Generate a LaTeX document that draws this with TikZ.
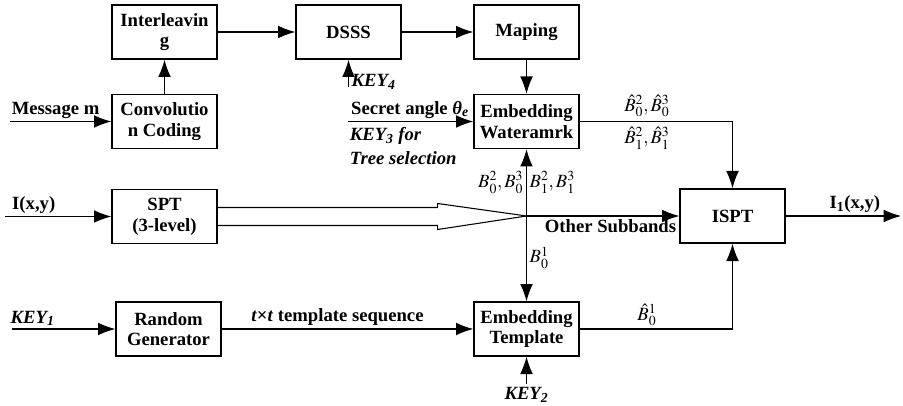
\documentclass[tikz,border=0pt]{standalone}
\usepackage{amsmath}
\usepackage{mathptmx}
\usepackage{fontspec}
\setmainfont{Liberation Serif}
\usetikzlibrary{arrows.meta, positioning}

\begin{document}
\begin{tikzpicture}[x=0.75pt, y=-0.75pt, line width=0.8pt,
    blk/.style={draw, line width=1pt, minimum width=78.75pt, minimum height=40.5pt,
        align=center, inner sep=1pt, font=\fontsize{14}{15.5}\selectfont\bfseries},
    lbl/.style={inner sep=2pt, align=left, font=\fontsize{14}{16}\selectfont\bfseries},
    mth/.style={inner sep=2pt, font=\fontsize{14}{16}\selectfont},
    arr/.style={-{Latex[length=13pt,width=9.5pt]}}]
    \useasboundingbox (0,0) rectangle (903,406);

    \node[blk] (inter) at (164.5,32) {Interleavin\\g};
    \node[blk] (dsss) at (348.5,32) {DSSS};
    \node[blk] (maping) at (526.5,32) {Maping};
    \node[blk] (conv) at (164.5,121.5) {Convolutio\\n Coding};
    \node[blk] (embw) at (526.5,121.5) {Embedding\\Wateramrk};
    \node[blk] (spt) at (164.5,216.5) {SPT\\(3-level)};
    \node[blk] (ispt) at (732.5,216) {ISPT};
    \node[blk] (randg) at (168.5,329) {Random\\Generator};
    \node[blk] (embt) at (526.5,329) {Embedding\\Template};

    \coordinate (msg) at (10,121.5);
    \coordinate (img) at (5,216.5);
    \coordinate (out) at (901,216);
    \coordinate (key1) at (12,329);
    \coordinate (key4) at (348.5,87);
    \coordinate (key2) at (526.5,384);
    \coordinate (secret) at (348,121.5);
    \coordinate (junc) at (526.5,216);

    \draw[arr] (inter) -- (dsss);
    \draw[arr] (dsss) -- (maping);
    \draw[arr] (conv) -- (inter);
    \draw[arr] (maping) -- (embw);
    \draw[arr] (msg) -- node[lbl, above, pos=0.45] {Message m} (conv.west);
    \draw[arr] (img) -- node[lbl, above, pos=0.27] {I(x,y)} (spt.west);
    \draw[arr] (ispt) -- node[lbl, above, pos=0.6] {I\textsubscript{1}(x,y)} (out);
    \draw[arr] (key1) -- node[lbl, above, pos=0.2] {\textit{KEY\textsubscript{1}}} (randg);
    \draw[arr] (randg) -- node[lbl, above, pos=0.46] {\textit{t}×\textit{t} template sequence} (embt);

    \draw[arr] (key4) -- (dsss.south);
    \node[lbl, anchor=west] (k4lbl) at ([yshift=4pt]key4) {\textit{KEY\textsubscript{4}}};
    \draw[arr] (key2) -- (embt.south);
    \node[lbl, below] (k2lbl) at (key2) {\textit{KEY\textsubscript{2}}};

    \draw[arr] (secret) -- (embw.west);
    \node[lbl, anchor=south west, inner sep=2pt] (salbl) at (secret) {Secret angle \textit{θ\textsubscript{e}}};
    \node[lbl, anchor=north west, inner sep=4pt, xshift=-3pt, font=\fontsize{14}{18}\selectfont\bfseries] (k3lbl)
        at (secret) {\textit{KEY\textsubscript{3} for}\\\textit{Tree selection}};

    \draw ([yshift=6.75pt]spt.east) -- ++(220,0) -- ++(0,-4) -- (junc);
    \draw ([yshift=-6.75pt]spt.east) -- ++(220,0) -- ++(0,4) -- (junc);

    \draw[arr] (junc) -- node[mth, left, pos=0.5] {$B_0^2 , B_0^3$}
        node[mth, right, pos=0.5] {$B_1^2 , B_1^3$} (embw.south);
    \draw[arr] (junc) -- node[mth, right, pos=0.49] {$B_0^1$} (embt.north);
    \draw[arr] (junc) -- node[lbl, below left, pos=1] {Other Subbands} (ispt.west);

    \draw[arr] (embw.east) -| node[mth, above, pos=0.22, yshift=1pt] {$\hat{B}_0^2 , \hat{B}_0^3$}
        node[mth, below, pos=0.22, yshift=-2pt] {$\hat{B}_1^2 , \hat{B}_1^3$} (ispt.north);
    \draw[arr] (embt.east) -| node[mth, above, pos=0.22] {$\hat{B}_0^1$} (ispt.south);
\end{tikzpicture}
\end{document}
